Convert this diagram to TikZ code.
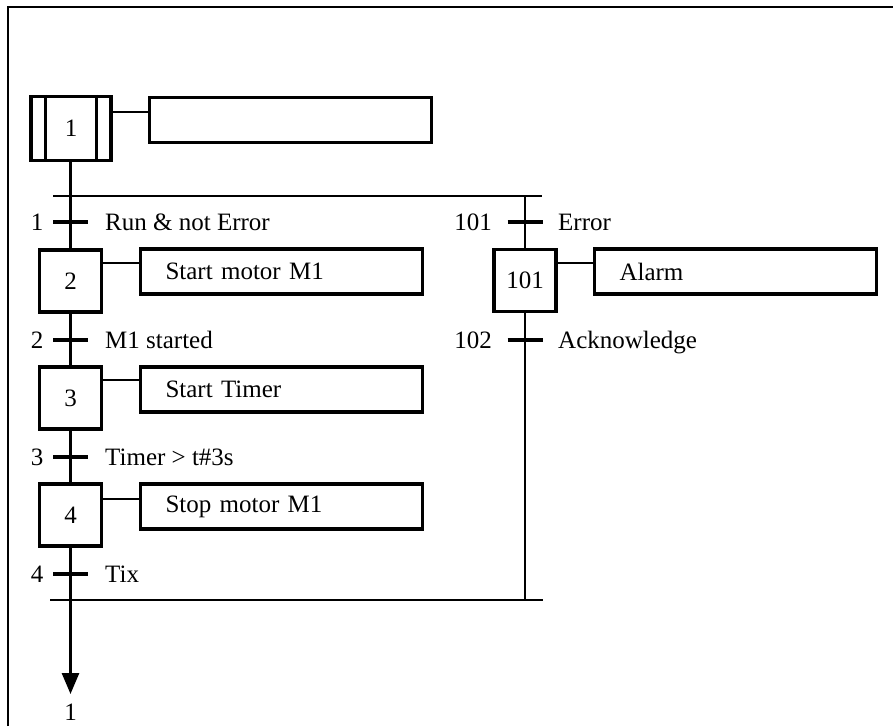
\documentclass[tikz,border=0pt]{standalone}
\usepackage{fontspec}
\setmainfont{Liberation Serif}
\usetikzlibrary{arrows.meta}
\begin{document}
\begin{tikzpicture}[x=1pt,y=-1pt,
  every node/.style={font=\fontsize{25}{30}\selectfont},
  stepbox/.style={draw,line width=3.3pt,minimum width=62pt,minimum height=62pt,inner sep=0pt},
  initbox/.style={draw,line width=3.3pt,minimum width=80pt,minimum height=64pt,inner sep=0pt},
  actbox/.style={draw,line width=3.3pt,text width=232pt,inner xsep=25pt,inner ysep=0pt,minimum height=45pt,align=left},
  link/.style={line width=2.8pt},
  alink/.style={line width=2.2pt},
  bar/.style={line width=2.2pt},
  tick/.style={line width=3.2pt},
  tlabL/.style={anchor=base east,inner sep=0pt},
  tlabR/.style={anchor=base west,inner sep=0pt}
]
\useasboundingbox (0,0) rectangle (893,726);
% frame
\draw[line width=2.2pt] (8,726) -- (8,7) -- (893,7);

% initial step
\node[initbox] (s1) at (71,128.5) {1};
\draw[line width=2.8pt] ([xshift=-25.5pt]s1.north) -- ([xshift=-25.5pt]s1.south);
\draw[line width=2.8pt] ([xshift=25.5pt]s1.north) -- ([xshift=25.5pt]s1.south);
\node[actbox] (a1) at (290.5,120) {};
\coordinate (c1) at (0,112);
\draw[alink] (s1.east |- c1) -- (a1.west |- c1);

% steps
\node[stepbox] (s2) at (70.5,281) {2};
\node[stepbox] (s3) at (70.5,398) {3};
\node[stepbox] (s4) at (70.5,515) {4};
\node[stepbox] (s101) at (525,280.5) {101};

% actions
\node[actbox] (a2) at (281.5,271.5) {Start motor M1};
\node[actbox] (a3) at (281.5,389.5) {Start Timer};
\node[actbox] (a4) at (281.5,506.5) {Stop motor M1};
\node[actbox] (a101) at (735.5,271.5) {Alarm};
\coordinate (c2) at (0,263);
\coordinate (c3) at (0,380);
\coordinate (c4) at (0,499);
\draw[alink] (s2.east |- c2) -- (a2.west |- c2);
\draw[alink] (s3.east |- c3) -- (a3.west |- c3);
\draw[alink] (s4.east |- c4) -- (a4.west |- c4);
\draw[alink] (s101.east |- c2) -- (a101.west |- c2);

% divergence / convergence bars
\coordinate (dL) at (53,196);
\coordinate (dR) at (542,196);
\coordinate (vL) at (50,600);
\coordinate (vR) at (543,600);
\draw[bar] (dL) -- (dR);
\draw[bar] (vL) -- (vR);

% links on main branch
\draw[link] (s1.south -| s2.north) -- (s2.north);
\draw[link] (s2.south) -- (s3.north);
\draw[link] (s3.south) -- (s4.north);
\coordinate (end) at (70.5,694);
\draw[link,-{Triangle[length=21pt,width=17pt]}] (s4.south) -- (end);
\node[inner sep=0pt] (jump) at (70.5,712) {1};

% right branch
\draw[link] (dR -| s101.north) -- (s101.north);
\draw[link] (s101.south) -- (vR -| s101.south);

% transitions
\coordinate (t1) at (70.5,222);
\coordinate (t2) at (70.5,340);
\coordinate (t3) at (70.5,457);
\coordinate (t4) at (70.5,574);
\coordinate (t101) at (525,222);
\coordinate (t102) at (525,340);
\foreach \t in {t1,t2,t3,t4,t101,t102}
  \draw[tick] ([xshift=-17.5pt]\t) -- ([xshift=17.5pt]\t);

\node[tlabL] (l1) at ([xshift=-27pt,yshift=-8pt]t1) {1};
\node[tlabR] (r1) at ([xshift=34.5pt,yshift=-8pt]t1) {Run \& not Error};
\node[tlabL] (l2) at ([xshift=-27pt,yshift=-8pt]t2) {2};
\node[tlabR] (r2) at ([xshift=34.5pt,yshift=-8pt]t2) {M1 started};
\node[tlabL] (l3) at ([xshift=-27pt,yshift=-8pt]t3) {3};
\node[tlabR] (r3) at ([xshift=34.5pt,yshift=-8pt]t3) {Timer > t\#3s};
\node[tlabL] (l4) at ([xshift=-27pt,yshift=-8pt]t4) {4};
\node[tlabR] (r4) at ([xshift=34.5pt,yshift=-8pt]t4) {Tix};
\node[tlabL] (l101) at ([xshift=-33pt,yshift=-8pt]t101) {101};
\node[tlabR] (r101) at ([xshift=33pt,yshift=-8pt]t101) {Error};
\node[tlabL] (l102) at ([xshift=-33pt,yshift=-8pt]t102) {102};
\node[tlabR] (r102) at ([xshift=33pt,yshift=-8pt]t102) {Acknowledge};
\end{tikzpicture}
\end{document}
